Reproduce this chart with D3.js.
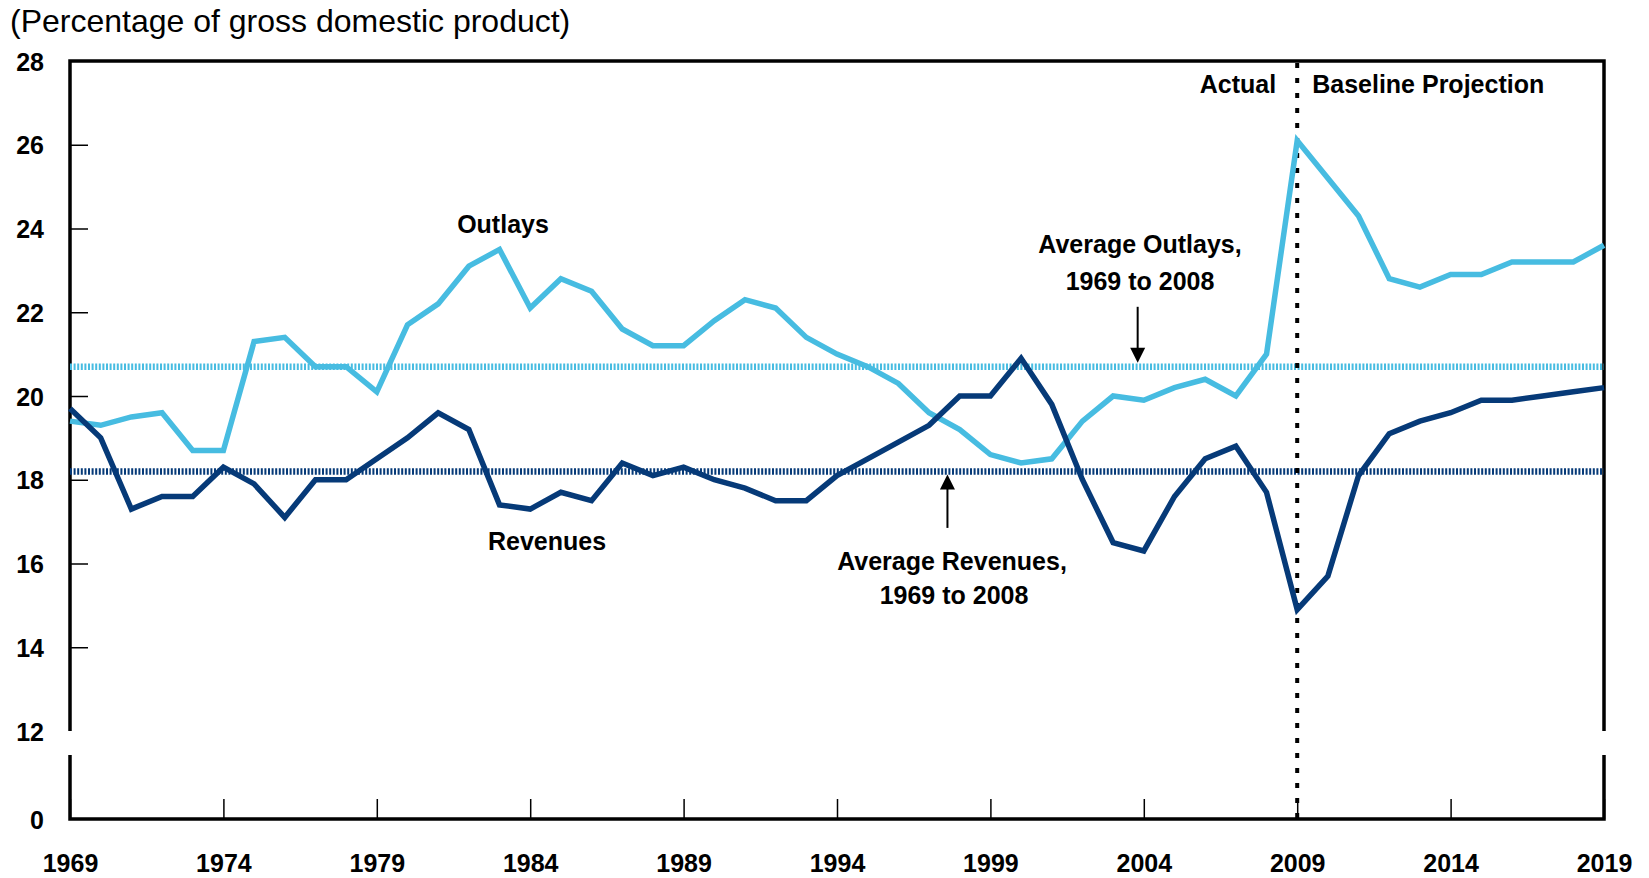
<!DOCTYPE html>
<html>
<head>
<meta charset="utf-8">
<script src="https://cdn.jsdelivr.net/npm/d3@7"></script>
<style>
  body { margin: 0; background: #fff; }
  svg text { font-family: "Liberation Sans", Arial, sans-serif; fill: #000; }
  .lbl { font-weight: bold; font-size: 25px; }
</style>
</head>
<body>
<svg id="chart" width="1649" height="878"></svg>
<script>
// percentage of GDP, fiscal years 1969-2019 (2009 on = baseline projection)
var years = d3.range(1969, 2020);
var outlays = [19.4, 19.3, 19.5, 19.6, 18.7, 18.7, 21.3, 21.4, 20.7, 20.7,
               20.1, 21.7, 22.2, 23.1, 23.5, 22.1, 22.8, 22.5, 21.6, 21.2,
               21.2, 21.8, 22.3, 22.1, 21.4, 21.0, 20.7, 20.3, 19.6, 19.2,
               18.6, 18.4, 18.5, 19.4, 20.0, 19.9, 20.2, 20.4, 20.0, 21.0,
               26.1, 25.2, 24.3, 22.8, 22.6, 22.9, 22.9, 23.2, 23.2, 23.2, 23.6];
var revenues = [19.7, 19.0, 17.3, 17.6, 17.6, 18.3, 17.9, 17.1, 18.0, 18.0,
                18.5, 19.0, 19.6, 19.2, 17.4, 17.3, 17.7, 17.5, 18.4, 18.1,
                18.3, 18.0, 17.8, 17.5, 17.5, 18.1, 18.5, 18.9, 19.3, 20.0,
                20.0, 20.9, 19.8, 18.0, 16.5, 16.3, 17.6, 18.5, 18.8, 17.7,
                14.9, 15.7, 18.1, 19.1, 19.4, 19.6, 19.9, 19.9, 20.0, 20.1, 20.2];
var avgOutlays = 20.7, avgRevenues = 18.2;
var projectionStart = 2009;
var xTickYears = [1969, 1974, 1979, 1984, 1989, 1994, 1999, 2004, 2009, 2014, 2019];
var yTickValues = [0, 12, 14, 16, 18, 20, 22, 24, 26, 28];

var lightBlue = "#47bce1", navy = "#063a78";

var svg = d3.select("#chart");

var x = d3.scaleLinear()
    .domain([1969, 2019])
    .range([70, 1604]);

// broken axis: 0 sits below a short gap under 12
var y = d3.scaleLinear()
    .domain([0, 12, 28])
    .range([819, 731, 61]);
var gapBottom = 755;

svg.append("text")
    .attr("x", 10)
    .attr("y", 32)
    .style("font-size", "32px")
    .text("(Percentage of gross domestic product)");

// y axis
var yAxis = d3.axisLeft(y)
    .tickValues(yTickValues)
    .tickSizeInner(-18)
    .tickSizeOuter(0)
    .tickPadding(26)
    .tickFormat(d3.format("d"));

var gy = svg.append("g")
    .attr("transform", "translate(" + x(1969) + ",0)")
    .call(yAxis);
gy.select(".domain").remove();
gy.selectAll(".tick line")
    .attr("stroke-width", 1.5)
    .filter(function(d) { return d == 0 || d == 12 || d == 28; }).remove();
gy.selectAll(".tick text")
    .attr("class", "lbl")
    .attr("dy", "0.36em");

// x axis
var xAxis = d3.axisBottom(x)
    .tickValues(xTickYears)
    .tickSizeInner(-20)
    .tickSizeOuter(0)
    .tickPadding(35)
    .tickFormat(d3.format("d"));

var gx = svg.append("g")
    .attr("transform", "translate(0," + y(0) + ")")
    .call(xAxis);
gx.select(".domain").remove();
gx.selectAll(".tick line").attr("stroke-width", 1.5);
gx.selectAll(".tick text").attr("class", "lbl");

// frame with breaks on both sides
var frame = svg.append("g")
    .attr("fill", "none")
    .attr("stroke", "#000")
    .attr("stroke-width", 3.5);
frame.append("path")
    .attr("d", "M" + x(1969) + "," + y(12) + "V" + y(28) + "H" + x(2019) + "V" + y(12));
frame.append("path")
    .attr("d", "M" + x(1969) + "," + gapBottom + "V" + y(0) + "H" + x(2019) + "V" + gapBottom);

// 1969-2008 averages
svg.selectAll(".avg")
    .data([{v: avgOutlays, c: lightBlue}, {v: avgRevenues, c: navy}])
  .enter().append("line")
    .attr("class", "avg")
    .attr("x1", x(1969))
    .attr("x2", x(2019))
    .attr("y1", function(d) { return y(d.v); })
    .attr("y2", function(d) { return y(d.v); })
    .attr("stroke", function(d) { return d.c; })
    .attr("stroke-width", 6.5)
    .attr("stroke-dasharray", "2,1.6");

// actual | projection divider
svg.append("line")
    .attr("x1", x(projectionStart))
    .attr("x2", x(projectionStart))
    .attr("y1", y(28) + 2)
    .attr("y2", y(0))
    .attr("stroke", "#000")
    .attr("stroke-width", 4)
    .attr("stroke-dasharray", "5,10");

var line = d3.line()
    .x(function(d) { return x(d[0]); })
    .y(function(d) { return y(d[1]); });

svg.append("path")
    .datum(d3.zip(years, outlays))
    .attr("fill", "none")
    .attr("stroke", lightBlue)
    .attr("stroke-width", 5.5)
    .attr("d", line);

svg.append("path")
    .datum(d3.zip(years, revenues))
    .attr("fill", "none")
    .attr("stroke", navy)
    .attr("stroke-width", 5.5)
    .attr("d", line);

// arrows pointing at the average lines
function arrow(xv, fromY, tipY) {
  var dir = tipY > fromY ? 1 : -1, px = x(xv);
  svg.append("line")
      .attr("x1", px).attr("x2", px)
      .attr("y1", fromY).attr("y2", tipY - dir * 12)
      .attr("stroke", "#000")
      .attr("stroke-width", 2);
  svg.append("path")
      .attr("d", "M" + px + "," + tipY + "L" + (px - 7.5) + "," + (tipY - dir * 15) +
                 "L" + (px + 7.5) + "," + (tipY - dir * 15) + "Z")
      .attr("fill", "#000");
}
arrow(2003.8, y(22.13), y(avgOutlays) - 4);
arrow(1997.6, y(16.85), y(avgRevenues) + 3);

// labels
function label(txt, px, py, anchor) {
  svg.append("text")
      .attr("class", "lbl")
      .attr("x", px)
      .attr("y", py)
      .attr("text-anchor", anchor || "middle")
      .text(txt);
}
label("Actual", x(projectionStart) - 21, 93, "end");
label("Baseline Projection", x(projectionStart) + 15, 93, "start");
label("Outlays", 503, 233);
label("Revenues", 547, 550);
label("Average Outlays,", 1140, 253);
label("1969 to 2008", 1140, 290);
label("Average Revenues,", 952, 570);
label("1969 to 2008", 954, 604);
</script>
</body>
</html>
